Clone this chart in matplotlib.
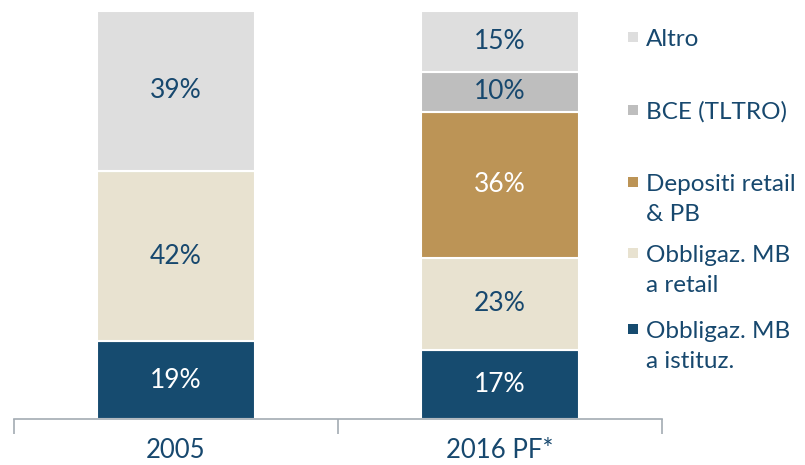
import matplotlib.pyplot as plt
import numpy as np
from matplotlib.patches import Rectangle

categories = ["2005", "2016 PF*"]
series_names = [
    "Obbligaz. MB\na istituz.",
    "Obbligaz. MB\na retail",
    "Depositi retail\n& PB",
    "BCE (TLTRO)",
    "Altro",
]
# shares in %, bottom to top (labels are rounded)
istituz = [19.1, 16.9]
retail = [41.7, 22.6]
depositi = [0.0, 35.8]
bce = [0.0, 9.8]
altro = [39.2, 14.9]

colors = ["#164b6f", "#e8e2d0", "#bc9456", "#bebebe", "#dedede"]
label_colors = ["white", "#17486e", "white", "#17486e", "#17486e"]

NAVY = "#17486e"
AXIS_GREY = "#a3abb3"
plt.rcParams["font.family"] = ["Lato", "DejaVu Sans"]

fig = plt.figure(figsize=(8.05, 4.65), dpi=100)
ax = fig.add_axes([14 / 805, 46 / 465, 648 / 805, 408 / 465])

x = np.arange(len(categories))
bottom = np.zeros(len(categories))
for vals, color, tcolor in zip([istituz, retail, depositi, bce, altro], colors, label_colors):
    vals = np.array(vals)
    ax.bar(x, vals, width=0.49, bottom=bottom, color=color,
           edgecolor="white", linewidth=1.5)
    for xi, v, b in zip(x, vals, bottom):
        if v > 0:
            ax.text(xi, b + v / 2, f"{v:.0f}%", ha="center", va="center",
                    fontsize=19, color=tcolor)
    bottom += vals

ax.set_xlim(-0.5, 1.5)
ax.set_ylim(0, 100)
for side in ["top", "right", "left"]:
    ax.spines[side].set_visible(False)
ax.spines["bottom"].set_color(AXIS_GREY)
ax.spines["bottom"].set_linewidth(1.2)
ax.set_yticks([])
ax.set_xticks(x)
ax.set_xticklabels(categories, fontsize=18.5, color=NAVY)
ax.tick_params(axis="x", which="major", length=0, pad=14)
ax.set_xticks([-0.5, 0.5, 1.5], minor=True)
ax.tick_params(axis="x", which="minor", length=11, width=1.2, color=AXIS_GREY)

# legend drawn by hand, top entry first (pixel rows of first line)
legend_y = [37, 110, 182, 253, 329]
line_step = 30
for i, (name, color) in enumerate(zip(series_names[::-1], colors[::-1])):
    yc = legend_y[i]
    fig.patches.append(Rectangle((628 / 805, 1 - (yc + 5) / 465), 10 / 805, 10 / 465,
                                 transform=fig.transFigure, facecolor=color,
                                 edgecolor="none"))
    for j, line in enumerate(name.split("\n")):
        yb = yc + j * line_step + 9
        fig.text(646 / 805, 1 - yb / 465, line, ha="left", va="baseline",
                 fontsize=17.5, color=NAVY)

fig.savefig("out.png", dpi=100)
